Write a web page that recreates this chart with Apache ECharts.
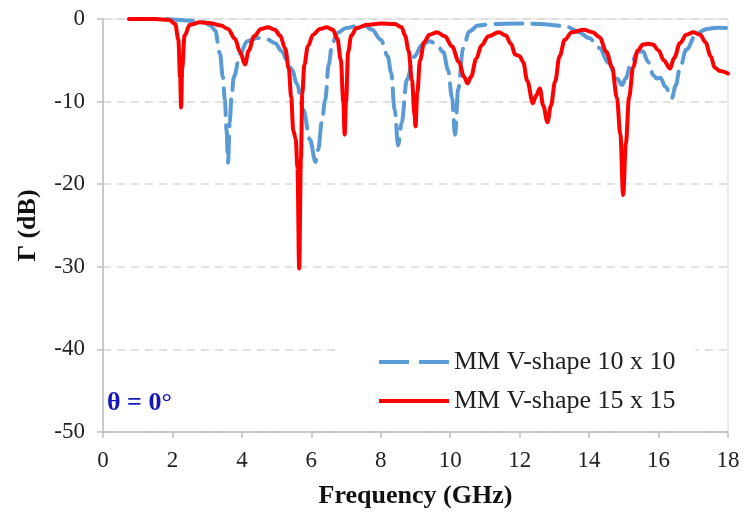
<!DOCTYPE html>
<html>
<head>
<meta charset="utf-8">
<script src="https://cdn.jsdelivr.net/npm/echarts@6/dist/echarts.min.js"></script>
<style>html,body{margin:0;padding:0;background:#fff}#c{width:743px;height:517px}</style>
</head>
<body>
<div id="c"></div>
<script>
const seriesNames = ['MM V-shape 10 x 10', 'MM V-shape 15 x 15'];
const xTicks = [0, 2, 4, 6, 8, 10, 12, 14, 16, 18];
const yTicks = [0, -10, -20, -30, -40, -50];

// MM V-shape 10 x 10 : [frequency GHz, Γ dB]
const blueData = [
  [0.75,0],[1.5,0],[2.0,-0.05],[2.5,-0.2],[2.9,-0.4],[3.1,-0.8],[3.23,-1.4],[3.37,-4.2],
  [3.45,-7],[3.51,-9.8],[3.56,-13.5],[3.6,-17.4],[3.65,-12.5],[3.7,-9.5],[3.77,-7],
  [3.95,-4.2],[4.15,-2.7],[4.45,-2.3],[4.75,-2.5],[4.95,-2.9],[5.15,-3.9],[5.3,-5],
  [5.45,-6.2],[5.58,-7.8],[5.77,-11],[5.96,-14.6],[6.12,-17.3],[6.2,-15.8],[6.3,-12.5],
  [6.4,-9.8],[6.5,-5.5],[6.6,-3],[6.75,-1.7],[7.0,-1.1],[7.3,-0.85],[7.55,-0.85],
  [7.75,-1.3],[8.0,-2.5],[8.2,-4.5],[8.3,-6.5],[8.4,-11],[8.5,-15.3],[8.6,-12.6],
  [8.75,-7.4],[8.95,-4.6],[9.2,-3.1],[9.4,-2.7],[9.6,-3.0],[9.8,-4],[9.94,-6.2],
  [10.05,-9.5],[10.14,-14],[10.23,-8.5],[10.37,-3.6],[10.55,-1.5],[10.8,-0.8],
  [11.2,-0.6],[12.0,-0.55],[12.6,-0.6],[13.0,-0.75],[13.4,-1.0],[13.7,-1.6],[14.0,-2.3],
  [14.3,-3.5],[14.55,-5.3],[14.8,-7.2],[14.95,-8],[15.05,-7.2],[15.2,-5.5],[15.4,-4.0],
  [15.55,-3.9],[15.7,-5.2],[15.85,-6.8],[15.95,-7.2],[16.05,-7.1],[16.2,-8.2],
  [16.38,-9.6],[16.5,-8],[16.6,-6.2],[16.8,-3.7],[17.1,-1.7],[17.4,-1.2],[17.7,-1.05],[18,-1.1]
];

// MM V-shape 15 x 15 : [frequency GHz, Γ dB]
const redData = [
  [0.75,0],[1.5,0],[1.9,-0.1],[2.08,-0.6],[2.17,-2.5],[2.22,-7],[2.25,-10.7],[2.28,-6],
  [2.35,-2],[2.5,-0.7],[2.8,-0.4],[3.1,-0.5],[3.4,-0.8],[3.6,-1.2],[3.8,-2.4],[3.95,-4],
  [4.09,-5.5],[4.2,-3.8],[4.35,-2.1],[4.55,-1.2],[4.75,-1.0],[4.95,-1.3],[5.1,-2],
  [5.25,-3.6],[5.35,-6],[5.42,-9.5],[5.48,-13.5],[5.55,-14.5],[5.6,-18],[5.65,-30.2],
  [5.7,-17],[5.74,-9],[5.8,-5.5],[5.9,-3.3],[6.05,-1.9],[6.25,-1.2],[6.45,-1.0],
  [6.62,-1.3],[6.75,-2.4],[6.85,-5],[6.92,-10],[6.96,-14],[7.0,-10],[7.06,-4],[7.15,-2],
  [7.3,-1.1],[7.6,-0.7],[8.0,-0.55],[8.4,-0.6],[8.6,-1.0],[8.7,-2],[8.8,-3.8],[8.9,-7.5],
  [8.97,-11.5],[9.0,-13],[9.05,-9],[9.13,-5],[9.25,-2.8],[9.4,-1.9],[9.62,-1.6],
  [9.85,-2.1],[10.05,-3.3],[10.25,-5.2],[10.4,-7],[10.5,-7.8],[10.6,-7],[10.75,-4.8],
  [10.9,-3.2],[11.1,-2.1],[11.4,-1.6],[11.6,-2.0],[11.75,-3.0],[11.87,-4.3],[12.0,-4.5],
  [12.1,-5.2],[12.22,-7.5],[12.38,-10.2],[12.47,-9.3],[12.58,-8.4],[12.68,-10.5],
  [12.8,-12.5],[12.9,-10.5],[13.02,-7.6],[13.15,-4.5],[13.3,-2.5],[13.5,-1.6],
  [13.85,-1.3],[14.1,-1.6],[14.3,-2.2],[14.5,-4],[14.66,-5.8],[14.8,-9.5],[14.9,-14],
  [14.98,-21.3],[15.06,-15],[15.15,-9.5],[15.27,-5.8],[15.4,-3.8],[15.55,-3.1],
  [15.7,-3.0],[15.84,-3.1],[16.0,-3.8],[16.15,-5],[16.33,-6],[16.45,-4.7],[16.62,-2.9],
  [16.8,-1.9],[17.0,-1.6],[17.2,-1.9],[17.35,-2.8],[17.5,-4.5],[17.62,-5.9],[17.77,-6.3],[18,-6.6]
];

const serif = '"Liberation Serif", "DejaVu Serif", serif';
const chart = echarts.init(document.getElementById('c'), null, {renderer: 'canvas'});
chart.setOption({
  animation: false,
  backgroundColor: '#fff',
  grid: {left: 103, right: 15, top: 19, bottom: 85, show: true, borderColor: '#D9D9D9', borderWidth: 1},
  xAxis: {
    type: 'value', min: xTicks[0], max: xTicks[xTicks.length - 1], interval: 2,
    name: 'Frequency (GHz)', nameLocation: 'middle', nameGap: 51,
    nameTextStyle: {fontFamily: serif, fontSize: 26, fontWeight: 'bold', color: '#111'},
    axisLine: {onZero: false, lineStyle: {color: '#BFBFBF', width: 1.5}},
    axisTick: {show: true, inside: false, length: 6, lineStyle: {color: '#BFBFBF', width: 1.5}},
    axisLabel: {fontFamily: serif, fontSize: 23, color: '#222', margin: 17},
    splitLine: {show: false}
  },
  yAxis: {
    type: 'value', min: yTicks[yTicks.length - 1], max: yTicks[0], interval: 10,
    name: 'Γ (dB)', nameLocation: 'middle', nameGap: 62, nameRotate: 90,
    nameTextStyle: {fontFamily: serif, fontSize: 26, fontWeight: 'bold', color: '#111'},
    axisLine: {show: true, onZero: false, lineStyle: {color: '#BFBFBF', width: 1.5}},
    axisTick: {show: true, inside: false, length: 6, lineStyle: {color: '#BFBFBF', width: 1.5}},
    axisLabel: {fontFamily: serif, fontSize: 23, color: '#222', margin: 18},
    splitLine: {show: true, lineStyle: {color: '#D9D9D9', type: [8, 6], width: 1.5}}
  },
  legend: {
    orient: 'vertical', left: 338, top: 338,
    padding: [10, 20, 8, 41],
    backgroundColor: '#fff',
    itemWidth: 70, itemHeight: 4, itemGap: 11,
    textStyle: {fontFamily: serif, fontSize: 26, color: '#222', lineHeight: 28},
    data: [
      {name: seriesNames[0], icon: 'path://M0,0h30v4h-30z M40,0h30v4h-30z', itemStyle: {color: '#5B9BD5'}},
      {name: seriesNames[1], icon: 'path://M0,0h70v4h-70z', itemStyle: {color: '#FF0000'}}
    ]
  },
  graphic: [{
    type: 'text', left: 107, top: 390,
    style: {text: 'θ = 0°', font: 'bold 26px ' + serif, fill: '#1515B8'}
  }],
  series: [
    {
      name: seriesNames[0], type: 'line', data: blueData, showSymbol: false, symbol: 'none',
      smooth: 0.35, smoothMonotone: 'x',
      lineStyle: {color: '#5B9BD5', width: 4, type: [27, 10], cap: 'round'},
      itemStyle: {color: '#5B9BD5'}
    },
    {
      name: seriesNames[1], type: 'line', data: redData, showSymbol: false, symbol: 'none',
      smooth: 0.35, smoothMonotone: 'x',
      lineStyle: {color: '#FF0000', width: 4, cap: 'round'},
      itemStyle: {color: '#FF0000'}
    }
  ]
});
</script>
</body>
</html>
